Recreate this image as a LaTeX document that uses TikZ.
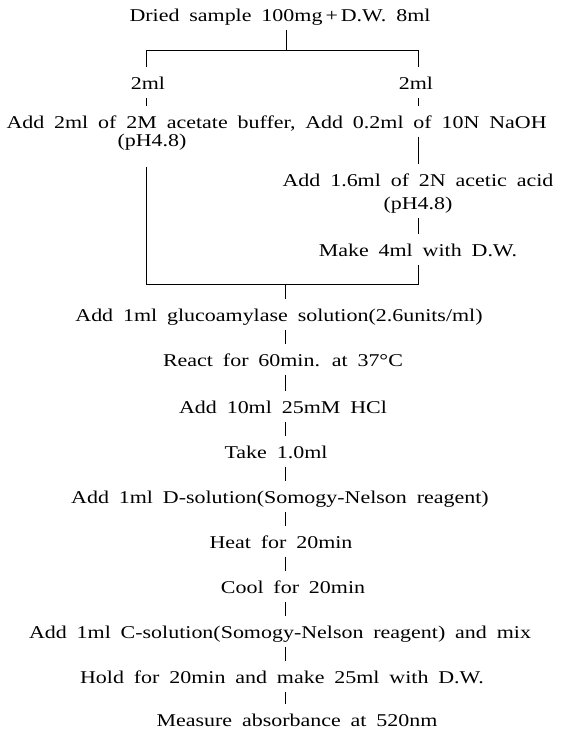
\documentclass[tikz,border=0pt]{standalone}
\usepackage{fontspec}
\setmainfont{Liberation Serif}[FakeStretch=1.22, WordSpace=1.8]
\begin{document}
\begin{tikzpicture}[x=1pt,y=-1pt,
  t/.style={font=\fontsize{18}{20}\selectfont, anchor=base, inner xsep=0pt, inner ysep=4.5pt,
            text height=17.5pt, text depth=4pt},
  ln/.style={line width=0.9pt}]
\useasboundingbox (0,0) rectangle (562,731);
\fill[white] (0,0) rectangle (562,731);
% nodes
\node[t] (title) at (280,21) {Dried sample 100mg\,+\,D.W. 8ml};
\node[t] (l1) at (148,89) {2ml};
\node[t] (r1) at (416,89) {2ml};
\node[t] (l2) at (151,128) {Add 2ml of 2M acetate buffer,};
\node[t] (l3) at (152,146) {(pH4.8)};
\node[t] (r2) at (426,128) {Add 0.2ml of 10N NaOH};
\node[t] (r3) at (418,186) {Add 1.6ml of 2N acetic acid};
\node[t] (r4) at (418,209) {(pH4.8)};
\node[t] (r5) at (418,256) {Make 4ml with D.W.};
\node[t] (m1) at (279,321) {Add 1ml glucoamylase solution(2.6units/ml)};
\node[t] (m2) at (283,366) {React for 60min. at 37°C};
\node[t] (m3) at (283,413) {Add 10ml 25mM HCl};
\node[t] (m4) at (276,458) {Take 1.0ml};
\node[t] (m5) at (280,503) {Add 1ml D-solution(Somogy-Nelson reagent)};
\node[t] (m6) at (281,548) {Heat for 20min};
\node[t] (m7) at (293,593) {Cool for 20min};
\node[t] (m8) at (280,638) {Add 1ml C-solution(Somogy-Nelson reagent) and mix};
\node[t] (m9) at (282,683) {Hold for 20min and make 25ml with D.W.};
\node[t] (m10) at (297,726) {Measure absorbance at 520nm};
% junction coordinates
\coordinate (top) at (286,50);
\coordinate (tl) at (146,50);
\coordinate (tr) at (418,50);
\coordinate (bl) at (146,284);
\coordinate (br) at (418,284);
\coordinate (bc) at (285,284);
% connectors
\draw[ln] (top |- title.south) -- (top);
\draw[ln] (tl |- l1.north) -- (tl) -- (tr) -- (tr |- r1.north);
\draw[ln] (tl |- l1.south) -- (tl |- l2.north);
\draw[ln] (tr |- r1.south) -- (tr |- r2.north);
\draw[ln] (tr |- r2.south) -- (tr |- r3.north);
\draw[ln] (tr |- r4.south) -- (tr |- r5.north);
\draw[ln, shorten <=12pt] (bl |- l3.south) -- (bl) -- (br) -- (br |- r5.south);
\draw[ln] (bc) -- (bc |- m1.north);
\foreach \a/\b in {m1/m2,m2/m3,m3/m4,m4/m5,m5/m6,m6/m7,m7/m8,m8/m9,m9/m10}
  \draw[ln] (bc |- \a.south) -- (bc |- \b.north);
\end{tikzpicture}
\end{document}
